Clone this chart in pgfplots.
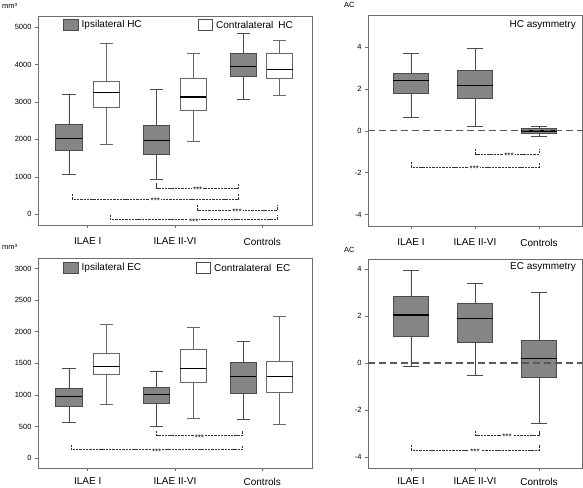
\documentclass[border=0pt]{standalone}
\usepackage{fontspec}
\setmainfont{Liberation Sans}
\usepackage{pgfplots}
\pgfplotsset{compat=1.18}
\usepgfplotslibrary{statistics}

\definecolor{boxgray}{RGB}{133,133,133}
\definecolor{edgegray}{RGB}{75,75,75}
\definecolor{framegray}{RGB}{110,110,110}

\pgfplotsset{
  panel/.style={
    scale only axis, anchor=south west,
    axis line style={framegray, line width=0.6pt},
    tick style={framegray, line width=0.6pt},
    xtick pos=bottom, ytick pos=left, tick align=outside,
    major tick length=3pt,
    xtick={1,2,3}, xticklabels={ILAE I, ILAE II-VI, Controls},
    yticklabel style={font=\fontsize{7.5}{8}\selectfont},
    xticklabel style={font=\fontsize{10}{12}\selectfont, inner sep=0.8pt, yshift=-8.8pt},
    /pgf/number format/assume math mode=true,
    /pgf/number format/set thousands separator={},
    boxplot/draw direction=y,
    clip=false,
  },
  lowrow/.style={xticklabel style={yshift=3pt}},
  ipsi/.style={draw=edgegray, fill=boxgray, line width=0.8pt, solid, mark=none,
     boxplot/box extend=0.3, boxplot/whisker extend=0.15,
     boxplot/every median/.style={black, line width=1.3pt}},
  contra/.style={draw=black!60, fill=white, line width=0.8pt, solid, mark=none,
     boxplot/box extend=0.3, boxplot/whisker extend=0.15,
     boxplot/every median/.style={black, line width=1.3pt}},
  asym/.style={draw=edgegray, fill=boxgray, line width=0.8pt, solid, mark=none,
     boxplot/box extend=0.55, boxplot/whisker extend=0.25,
     boxplot/every median/.style={black, line width=1.3pt}},
  brk/.style={black!80, line width=0.55pt, dash pattern=on 2.4pt off 0.9pt, mark=none},
  zline/.style={black!65, line width=1.1pt, dash pattern=on 7pt off 4pt, mark=none},
}

% bx: lower whisker, Q1, median, Q3, upper whisker, position, style
\newcommand{\bx}[7]{\addplot[#7, boxplot prepared={lower whisker=#1, lower quartile=#2, median=#3, upper quartile=#4, upper whisker=#5, draw position=#6}] coordinates {};}
% sig: x1, x2, y, ytop, xmid
\newcommand{\sig}[5]{%
  \addplot[brk] coordinates {(#1,#4) (#1,#3) (#2,#3) (#2,#4)};
  \node[fill=white, inner xsep=1pt, inner ysep=0pt, font=\fontsize{8}{8}\selectfont, yshift=-1.6pt] at (axis cs:#5,#3) {***};
}

\begin{document}
\begin{tikzpicture}
\path[use as bounding box] (0,0) rectangle (583pt,487pt);

% ---------------- top-left: HC volumes
\begin{axis}[panel, at={(38pt,262pt)}, width=274pt, height=209pt,
  xmin=0.43, xmax=3.57, ymin=-284, ymax=5293,
  ytick={0,1000,2000,3000,4000,5000}]
\bx{1066}{1696}{2025}{2407}{3205}{0.785}{ipsi}
\bx{1874}{2851}{3250}{3561}{4556}{1.215}{contra}
\bx{941}{1607}{1963}{2371}{3330}{1.79}{ipsi}
\bx{1954}{2780}{3135}{3632}{4307}{2.21}{contra}
\bx{3073}{3668}{3952}{4290}{4822}{2.78}{ipsi}
\bx{3162}{3615}{3863}{4290}{4645}{3.20}{contra}
\sig{1.79}{2.73}{700}{833}{2.26}
\sig{0.82}{2.73}{410}{543}{1.775}
\sig{2.25}{3.17}{115}{248}{2.71}
\sig{1.26}{3.17}{-142}{-9}{2.215}
\end{axis}

% ---------------- top-right: HC asymmetry
\begin{axis}[panel, at={(368pt,261pt)}, width=214pt, height=211pt,
  xmin=0.33, xmax=3.67, ymin=-4.55, ymax=5.55,
  ytick={-4,-2,0,2,4}]
\bx{0.65}{1.78}{2.40}{2.75}{3.70}{1}{asym}
\bx{0.21}{1.54}{2.16}{2.89}{3.97}{2}{asym}
\bx{-0.27}{-0.14}{0.0}{0.10}{0.20}{3}{asym}
\addplot[zline] coordinates {(0.33,0) (3.67,0)};
\sig{2.01}{3.0}{-1.1}{-0.86}{2.53}
\sig{1.0}{3.0}{-1.73}{-1.49}{1.99}
\end{axis}

% ---------------- bottom-left: EC volumes
\begin{axis}[panel, lowrow, at={(38pt,19pt)}, width=274pt, height=210pt,
  xmin=0.43, xmax=3.57, ymin=-158, ymax=3169,
  ytick={0,500,1000,1500,2000,2500,3000}]
\bx{570}{819}{977}{1099}{1426}{0.785}{ipsi}
\bx{856}{1320}{1447}{1659}{2123}{1.215}{contra}
\bx{502}{871}{1009}{1115}{1379}{1.79}{ipsi}
\bx{623}{1199}{1421}{1727}{2071}{2.21}{contra}
\bx{607}{1030}{1289}{1521}{1843}{2.78}{ipsi}
\bx{539}{1046}{1294}{1532}{2245}{3.20}{contra}
\sig{1.79}{2.775}{354}{433}{2.28}
\sig{0.81}{2.775}{132}{211}{1.79}
\end{axis}

% ---------------- bottom-right: EC asymmetry
\begin{axis}[panel, lowrow, at={(368pt,19pt)}, width=214pt, height=209pt,
  xmin=0.33, xmax=3.67, ymin=-4.47, ymax=4.43,
  ytick={-4,-2,0,2,4}]
\bx{-0.16}{1.12}{2.04}{2.82}{3.93}{1}{asym}
\bx{-0.51}{0.87}{1.90}{2.54}{3.39}{2}{asym}
\bx{-2.58}{-0.62}{0.18}{0.96}{2.99}{3}{asym}
\addplot[zline] coordinates {(0.33,0) (3.67,0)};
\sig{2.01}{3.0}{-3.09}{-2.88}{2.5}
\sig{1.0}{3.0}{-3.70}{-3.49}{2.0}
\end{axis}

% ---------------- unit labels, legends, titles
\node[anchor=west, inner sep=0pt, font=\fontsize{7.5}{8}\selectfont] at (2pt,481pt) {mm³};
\node[anchor=west, inner sep=0pt, font=\fontsize{7.5}{8}\selectfont] at (2pt,240pt) {mm³};
\node[anchor=west, inner sep=0pt, font=\fontsize{7.5}{8}\selectfont] at (344pt,482pt) {AC};
\node[anchor=west, inner sep=0pt, font=\fontsize{7.5}{8}\selectfont] at (344pt,237pt) {AC};

\draw[edgegray, fill=boxgray, line width=0.7pt] (63.5pt,457pt) rectangle (78pt,467.5pt);
\node[anchor=west, inner sep=0pt, font=\fontsize{10}{12}\selectfont] at (81.5pt,462.5pt) {Ipsilateral HC};
\draw[black!70, fill=white, line width=0.7pt] (198.5pt,457pt) rectangle (212pt,467.5pt);
\node[anchor=west, inner sep=0pt, font=\fontsize{10}{12}\selectfont] at (216pt,462.5pt) {Contralateral\hspace{0.5em}HC};

\draw[edgegray, fill=boxgray, line width=0.7pt] (63.5pt,214pt) rectangle (78pt,224.5pt);
\node[anchor=west, inner sep=0pt, font=\fontsize{10}{12}\selectfont] at (81.5pt,219.5pt) {Ipsilateral EC};
\draw[black!70, fill=white, line width=0.7pt] (196pt,214pt) rectangle (210pt,224.5pt);
\node[anchor=west, inner sep=0pt, font=\fontsize{10}{12}\selectfont] at (214pt,219.5pt) {Contralateral\hspace{0.5em}EC};

\node[anchor=east, inner sep=0pt, font=\fontsize{10}{12}\selectfont] at (576pt,462pt) {HC asymmetry};
\node[anchor=east, inner sep=0pt, font=\fontsize{10}{12}\selectfont] at (576pt,220pt) {EC asymmetry};
\end{tikzpicture}
\end{document}
